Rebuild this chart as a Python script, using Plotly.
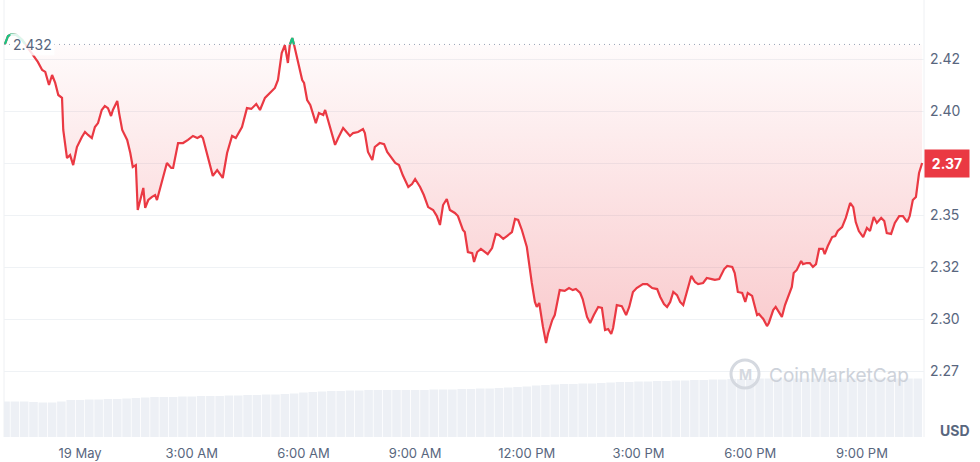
import plotly.graph_objs as go
import pandas as pd

# minutes from 19 May 00:00, price readings
minutes = [-121, -116, -110, -102, -93, -84, -74, -68, -61, -56, -50, -45, -40, -35, -29, -27, -21, -16, -11, -5,
           3, 8, 13, 19, 24, 29, 35, 40, 45, 50, 53, 60, 63, 68, 76, 81, 85, 90, 93, 102,
           105, 110, 116, 121, 124, 132, 140, 147, 150, 158, 166, 174, 182, 189, 195, 198, 206, 214, 221, 230,
           237, 245, 251, 261, 269, 276, 284, 290, 298, 306, 314, 319, 325, 330, 335, 338, 342, 345, 351, 358,
           361, 366, 371, 380, 385, 392, 395, 403, 411, 416, 424, 435, 440, 448, 456, 459, 464, 471, 475, 483,
           490, 495, 501, 508, 514, 520, 529, 535, 540, 548, 554, 561, 569, 575, 580, 585, 591, 596, 604, 609,
           617, 620, 625, 632, 635, 640, 646, 653, 657, 664, 670, 675, 682, 688, 696, 701, 706, 712, 720, 728,
           733, 736, 740, 746, 751, 754, 761, 765, 773, 781, 788, 794, 799, 806, 810, 817, 822, 828, 835, 841,
           846, 851, 856, 859, 865, 873, 880, 885, 891, 897, 907, 914, 922, 930, 935, 941, 946, 951, 956, 962,
           967, 972, 978, 985, 991, 996, 1004, 1010, 1018, 1023, 1030, 1038, 1043, 1051, 1055, 1060, 1067, 1072, 1076, 1083,
           1091, 1094, 1101, 1107, 1110, 1117, 1121, 1131, 1136, 1142, 1147, 1150, 1155, 1162, 1165, 1171, 1176, 1181, 1186, 1191,
           1197, 1200, 1205, 1212, 1217, 1221, 1228, 1234, 1241, 1246, 1250, 1255, 1262, 1268, 1273, 1279, 1284, 1291, 1296, 1300,
           1307, 1313, 1320, 1326, 1333, 1337, 1342, 1347, 1352, 1357]

prices = [2.4322, 2.4361, 2.4370, 2.4365, 2.4341, 2.4303, 2.4264, 2.4236, 2.4197, 2.4188, 2.4125, 2.4173, 2.4135, 2.4077, 2.4063, 2.3909, 2.3774, 2.3788, 2.3740, 2.3827,
          2.3875, 2.3899, 2.3885, 2.3870, 2.3923, 2.3942, 2.4005, 2.4024, 2.4014, 2.3976, 2.4005, 2.4048, 2.3990, 2.3909, 2.3861, 2.3798, 2.3731, 2.3740, 2.3524, 2.3630,
          2.3534, 2.3572, 2.3587, 2.3596, 2.3572, 2.3668, 2.3750, 2.3726, 2.3726, 2.3846, 2.3846, 2.3861, 2.3880, 2.3870, 2.3880, 2.3870, 2.3774, 2.3688, 2.3716, 2.3678,
          2.3798, 2.3880, 2.3870, 2.3923, 2.4014, 2.4010, 2.4034, 2.4005, 2.4063, 2.4087, 2.4111, 2.4149, 2.4279, 2.4317, 2.4231, 2.4317, 2.4351, 2.4317, 2.4236, 2.4149,
          2.4135, 2.4053, 2.4029, 2.3942, 2.3990, 2.3981, 2.4005, 2.3918, 2.3837, 2.3870, 2.3918, 2.3880, 2.3894, 2.3899, 2.3913, 2.3894, 2.3803, 2.3764, 2.3827, 2.3846,
          2.3841, 2.3803, 2.3779, 2.3750, 2.3740, 2.3692, 2.3635, 2.3649, 2.3673, 2.3635, 2.3596, 2.3538, 2.3524, 2.3495, 2.3452, 2.3548, 2.3577, 2.3524, 2.3510, 2.3495,
          2.3428, 2.3418, 2.3322, 2.3317, 2.3274, 2.3322, 2.3337, 2.3322, 2.3312, 2.3341, 2.3409, 2.3404, 2.3385, 2.3399, 2.3418, 2.3481, 2.3476, 2.3428, 2.3346, 2.3173,
          2.3082, 2.3058, 2.3077, 2.2962, 2.2885, 2.2928, 2.2995, 2.3019, 2.3139, 2.3135, 2.3149, 2.3139, 2.3144, 2.3125, 2.3096, 2.3010, 2.2981, 2.3019, 2.3058, 2.3053,
          2.2947, 2.2952, 2.2928, 2.2957, 2.3067, 2.3062, 2.3019, 2.3058, 2.3130, 2.3149, 2.3168, 2.3168, 2.3149, 2.3144, 2.3106, 2.3072, 2.3058, 2.3082, 2.3130, 2.3115,
          2.3082, 2.3067, 2.3130, 2.3207, 2.3178, 2.3168, 2.3173, 2.3197, 2.3192, 2.3188, 2.3192, 2.3240, 2.3255, 2.3250, 2.3221, 2.3130, 2.3125, 2.3082, 2.3125, 2.3111,
          2.3019, 2.3024, 2.3000, 2.2966, 2.2981, 2.3043, 2.3058, 2.3010, 2.3067, 2.3115, 2.3154, 2.3221, 2.3236, 2.3279, 2.3264, 2.3269, 2.3269, 2.3250, 2.3264, 2.3337,
          2.3337, 2.3312, 2.3351, 2.3394, 2.3399, 2.3423, 2.3442, 2.3486, 2.3558, 2.3538, 2.3466, 2.3423, 2.3394, 2.3438, 2.3423, 2.3490, 2.3462, 2.3486, 2.3471, 2.3413,
          2.3409, 2.3462, 2.3495, 2.3495, 2.3466, 2.3495, 2.3572, 2.3587, 2.3702, 2.3750]

open_price = 2.432
last_label = "2.37"

# 15-min volume bars starting 18 May 22:00
vol_start = -120
volume = [35.5, 35.5, 35.5, 35, 34.5, 34.5, 35.5, 37, 37, 37.5, 37.5, 38, 38, 38.5, 39, 39.5, 40, 40, 40, 40.5,
          40.5, 41, 41, 41, 41.5, 41.5, 42, 42, 42.5, 42.5, 43, 43.5, 44.5, 45, 45.5, 46, 46, 46.5, 46.5, 47,
          47, 47, 47, 47, 47, 47, 47.5, 47.5, 47.5, 48, 48, 48.5, 48.5, 49, 49.5, 50, 50.5, 51.5, 52, 52.5,
          53, 53, 53.5, 53.5, 54, 54.5, 55, 55, 55.5, 55.5, 56, 56, 56.5, 56.5, 57, 57, 57.5, 57.5, 58, 58,
          58, 58.5, 58.5, 58.5, 58.5, 58.5, 58.5, 58.5, 58.5, 58.5, 58.5, 58.5, 58.5, 58.5, 58.5, 58.5, 58.5, 58.5, 58.5]

tick_minutes = [0, 180, 360, 540, 720, 900, 1080, 1260]
tick_text = ["19 May", "3:00 AM", "6:00 AM", "9:00 AM", "12:00 PM", "3:00 PM", "6:00 PM", "9:00 PM"]
y_ticks = [2.275, 2.30, 2.325, 2.35, 2.375, 2.40, 2.425]
y_text = ["2.27", "2.30", "2.32", "2.35", "", "2.40", "2.42"]  # 2.37 sits under the price tag

base = pd.Timestamp("2024-05-19")
def ts(m):
    return None if m is None else base + pd.Timedelta(minutes=m)

times = [ts(m) for m in minutes]
vol_times = [ts(vol_start + 15 * i) for i in range(len(volume))]

# green part above the open price
gx, gy = [], []
for i, (m, p) in enumerate(zip(minutes, prices)):
    if i > 0:
        m0, p0 = minutes[i - 1], prices[i - 1]
        if (p0 - open_price) * (p - open_price) < 0:
            mc = m0 + (open_price - p0) / (p - p0) * (m - m0)
            gx.append(mc); gy.append(open_price)
            if p < open_price:
                gx.append(None); gy.append(None)
    if p >= open_price:
        gx.append(m); gy.append(p)

RED = '#ea3943'
GREEN = '#16c784'
GRAY = '#58667e'

fig = go.Figure()

fig.add_trace(go.Bar(
    x=vol_times, y=volume, yaxis='y2',
    marker=dict(color='#edf0f5', line=dict(width=0)),
    hoverinfo='skip', showlegend=False
))

fig.add_trace(go.Scatter(
    x=times, y=[open_price] * len(times), mode='lines',
    line=dict(width=0, color='rgba(0,0,0,0)'), hoverinfo='skip', showlegend=False
))
fig.add_trace(go.Scatter(
    x=times, y=[min(p, open_price) for p in prices], mode='lines',
    line=dict(width=0, color='rgba(0,0,0,0)'), fill='tonexty',
    fillgradient=dict(type='vertical',
                      colorscale=[[0, 'rgba(234,57,67,0.27)'], [1, 'rgba(234,57,67,0.02)']]),
    hoverinfo='skip', showlegend=False
))

fig.add_trace(go.Scatter(
    x=times, y=prices, mode='lines',
    line=dict(color=RED, width=2.2), showlegend=False
))
fig.add_trace(go.Scatter(
    x=[ts(m) for m in gx], y=gy, mode='lines',
    line=dict(color=GREEN, width=2.2), connectgaps=False, showlegend=False
))

# open price dotted line
fig.add_shape(type='line', xref='paper', yref='y', x0=0, x1=1, y0=open_price, y1=open_price,
              line=dict(color='#9aa3b5', width=1, dash='1px,4px'), layer='above')
# plot edges
for xe in [0, 1]:
    fig.add_shape(type='line', xref='paper', yref='paper', x0=xe, x1=xe, y0=0, y1=1,
                  line=dict(color='#eef0f3', width=1), layer='below')

fig.add_annotation(xref='paper', yref='y', x=0.006, y=open_price, text=str(open_price),
                   xanchor='left', yanchor='middle', showarrow=False,
                   font=dict(size=14, color=GRAY), bgcolor='rgba(255,255,255,0.85)', borderpad=2)
fig.add_annotation(xref='paper', yref='y', x=1, y=prices[-1], text='<b>' + last_label + '</b>',
                   xanchor='left', yanchor='middle', showarrow=False,
                   font=dict(size=14, color='white'), bgcolor=RED, borderpad=5, width=34)
fig.add_annotation(xref='paper', yref='paper', x=1.034, y=0.016, text='<b>USD</b>',
                   xanchor='center', yanchor='middle', showarrow=False,
                   font=dict(size=14, color=GRAY))

# watermark
fig.add_shape(type='circle', xref='paper', yref='paper',
              x0=(731 - 4) / 920, x1=(759 - 4) / 920, y0=(437 - 388) / 437, y1=(437 - 360) / 437,
              line=dict(color='#d5d9e0', width=3), layer='above')
fig.add_annotation(xref='paper', yref='paper', x=(745 - 4) / 920, y=(437 - 374) / 437, text='<b>M</b>',
                   xanchor='center', yanchor='middle', showarrow=False,
                   font=dict(size=14, color='#d5d9e0', family='Inter'))
fig.add_annotation(xref='paper', yref='paper', x=(767 - 4) / 920, y=(437 - 375) / 437, text='CoinMarketCap',
                   xanchor='left', yanchor='middle', showarrow=False,
                   font=dict(size=19, color='#cdd2da', family='Inter'))

fig.update_layout(
    width=980, height=462,
    margin=dict(l=4, r=56, t=0, b=25),
    plot_bgcolor='white', paper_bgcolor='white',
    font=dict(family='Inter, Roboto, sans-serif', color=GRAY),
    bargap=0.08,
    hovermode=False,
    xaxis=dict(range=[ts(-122.5), ts(1360)], showgrid=False, zeroline=False,
               tickvals=[ts(m) for m in tick_minutes], ticktext=tick_text,
               tickfont=dict(size=13, color=GRAY), ticks='', ticklabelstandoff=7),
    yaxis=dict(range=[2.24327, 2.45337], side='right', showgrid=True, gridcolor='#eff2f5',
               zeroline=False, tickvals=y_ticks, ticktext=y_text, ticks='',
               ticklabelstandoff=5, tickfont=dict(size=14, color=GRAY)),
    yaxis2=dict(range=[0, 437], overlaying='y', visible=False, fixedrange=True),
)

fig.write_html("out.html", config={'displayModeBar': False},
               post_script="document.body.style.margin='0';")
